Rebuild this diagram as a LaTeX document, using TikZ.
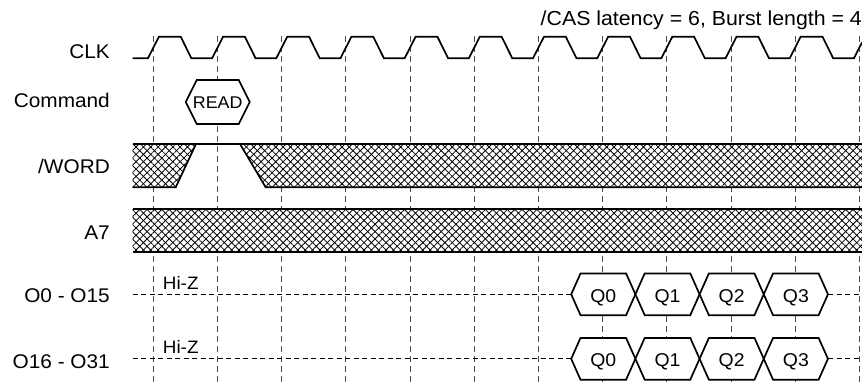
\documentclass[tikz,border=0pt]{standalone}
\usepackage{fontspec}
\setmainfont{Liberation Sans}[FakeStretch=1.05]
\usetikzlibrary{patterns.meta}
\begin{document}
\begin{tikzpicture}[x=1pt,y=-1pt,
  sig/.style={line width=1.7pt},
  gridline/.style={dash pattern=on 6pt off 4pt, line width=1pt, black!70},
  hiz/.style={dash pattern=on 5pt off 3.5pt, line width=1.3pt},
  hatch/.style={fill=white,
    postaction={pattern={Lines[angle=45,distance=5.2pt,line width=0.8pt]}},
    postaction={pattern={Lines[angle=-45,distance=5.2pt,line width=0.8pt]}}},
  lbl/.style={anchor=base east, inner sep=0pt, font=\fontsize{19.8}{22}\selectfont},
  small/.style={anchor=base, inner sep=0pt, font=\fontsize{18.5}{20}\selectfont},
]
\useasboundingbox (0,0) rectangle (862,386);

% vertical clock grid
\foreach \k in {0,...,11}
  \draw[gridline] ({153.4+64.18*\k},36) -- ({153.4+64.18*\k},386);

% title
\node[anchor=base east, inner sep=0pt, font=\fontsize{20.3}{22}\selectfont] (title) at (862,25) {/CAS latency = 6, Burst length = 4};

% labels
\node[lbl] (lclk) at (110,58.3) {CLK};
\node[lbl] (lcmd) at (110,107.7) {Command};
\node[lbl] (lword) at (110,173.3) {/WORD};
\node[lbl] (la7) at (110,239) {A7};
\node[lbl] (lo1) at (110,302.7) {O0 - O15};
\node[lbl] (lo2) at (110,368.3) {O16 - O31};

% CLK
\draw[sig] (132.7,58.3)
  \foreach \k in {0,...,10}{
    -- ({153.4+64.18*\k-5.5},58.3) -- ({153.4+64.18*\k+5.5},36.7)
    -- ({153.4+64.18*\k+27.3},36.7) -- ({153.4+64.18*\k+38},58.3) }
  -- (853.9,58.3) -- (862,42.4);

% Command READ
\draw[sig, fill=white] (185.7,102) -- (196.7,80) -- (238.7,80) -- (249.7,102) -- (238.7,124) -- (196.7,124) -- cycle;
\node[anchor=base, inner sep=0pt, font=\fontsize{17}{18}\selectfont] (read) at (217.7,108.5) {READ};

% /WORD
\path[hatch] (132.7,144) -- (196,144) -- (175.7,187.3) -- (132.7,187.3) -- cycle;
\path[hatch] (240,144) -- (862,144) -- (862,187.3) -- (265.7,187.3) -- cycle;
\draw[sig] (132.7,144) -- (862,144);
\draw[sig] (132.7,187.3) -- (175.7,187.3) -- (196,144);
\draw[sig] (240,144) -- (265.7,187.3) -- (862,187.3);

% A7
\path[hatch] (132.7,209.3) rectangle (862,251.7);
\draw[sig] (132.7,209.3) -- (862,209.3);
\draw[sig] (132.7,251.7) -- (862,251.7);

% data buses
\foreach \yy/\bl in {294.3/302.7, 358.8/366.9}{
  \draw[hiz] (132.7,\yy) -- (570.9,\yy);
  \draw[hiz] (828.3,\yy) -- (862,\yy);
  \node[anchor=base west, inner sep=0pt, font=\fontsize{18}{20}\selectfont] at (162.7,{\yy-5.3}) {Hi-Z};
  \foreach \k/\q in {0/Q0,1/Q1,2/Q2,3/Q3}{
    \pgfmathsetmacro\c{603.3+64.18*\k}
    \draw[sig, fill=white] ({\c-32.1},\yy) -- ({\c-22.8},{\yy-20.85}) -- ({\c+22.8},{\yy-20.85})
      -- ({\c+32.1},\yy) -- ({\c+22.8},{\yy+20.85}) -- ({\c-22.8},{\yy+20.85}) -- cycle;
    \node[small] at (\c,\bl) {\q};
  }
}
\end{tikzpicture}
\end{document}
